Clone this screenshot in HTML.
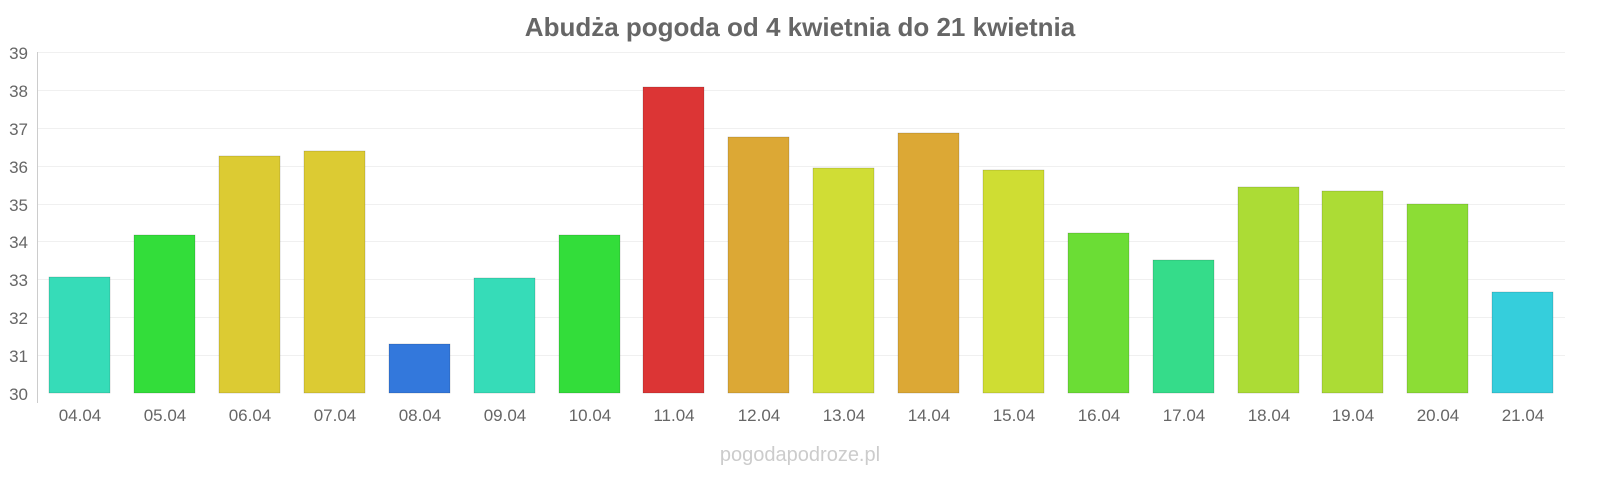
<!DOCTYPE html>
<html><head><meta charset="utf-8"><style>
body{margin:0;background:#fff;}
svg text{font-family:"Liberation Sans",sans-serif;}
</style></head><body>
<svg width="1600" height="480" xmlns="http://www.w3.org/2000/svg">
<rect width="1600" height="480" fill="#fff"/>
<text x="800" y="36" text-anchor="middle" font-size="26" font-weight="bold" fill="#666">Abudża pogoda od 4 kwietnia do 21 kwietnia</text>
<g stroke="#f0f0f0" stroke-width="1">
<line x1="38" x2="1565" y1="52.5" y2="52.5"/><line x1="38" x2="1565" y1="90.5" y2="90.5"/>
<line x1="38" x2="1565" y1="128.5" y2="128.5"/><line x1="38" x2="1565" y1="166.5" y2="166.5"/>
<line x1="38" x2="1565" y1="204.5" y2="204.5"/><line x1="38" x2="1565" y1="241.5" y2="241.5"/>
<line x1="38" x2="1565" y1="279.5" y2="279.5"/><line x1="38" x2="1565" y1="317.5" y2="317.5"/>
<line x1="38" x2="1565" y1="355.5" y2="355.5"/>
</g>
<line x1="37.5" x2="37.5" y1="52" y2="403" stroke="#ccc"/>
<g font-size="17" fill="#666" text-anchor="end">
<text x="28" y="59">39</text><text x="28" y="97">38</text><text x="28" y="135">37</text>
<text x="28" y="173">36</text><text x="28" y="211">35</text><text x="28" y="248">34</text>
<text x="28" y="286">33</text><text x="28" y="324">32</text><text x="28" y="362">31</text>
<text x="28" y="400">30</text>
</g>
<g stroke-opacity="0.3" stroke="#000" stroke-width="0.5">
<rect x="49" y="277" width="61" height="116" fill="#36dcb8"/>
<rect x="134" y="235" width="61" height="158" fill="#33dd3a"/>
<rect x="219" y="156" width="61" height="237" fill="#dccb33"/>
<rect x="304" y="151" width="61" height="242" fill="#dccb33"/>
<rect x="389" y="344" width="61" height="49" fill="#3378dc"/>
<rect x="474" y="278" width="61" height="115" fill="#36dcb8"/>
<rect x="559" y="235" width="61" height="158" fill="#33dd3a"/>
<rect x="643" y="87" width="61" height="306" fill="#dc3535"/>
<rect x="728" y="137" width="61" height="256" fill="#dca835"/>
<rect x="813" y="168" width="61" height="225" fill="#d0dd35"/>
<rect x="898" y="133" width="61" height="260" fill="#dca835"/>
<rect x="983" y="170" width="61" height="223" fill="#cfdd33"/>
<rect x="1068" y="233" width="61" height="160" fill="#6bdd35"/>
<rect x="1153" y="260" width="61" height="133" fill="#35dc8a"/>
<rect x="1238" y="187" width="61" height="206" fill="#acdc35"/>
<rect x="1322" y="191" width="61" height="202" fill="#acdc35"/>
<rect x="1407" y="204" width="61" height="189" fill="#8cdd35"/>
<rect x="1492" y="292" width="61" height="101" fill="#35cedc"/>
</g>
<g font-size="17" fill="#666" text-anchor="middle">
<text x="80" y="421">04.04</text><text x="165" y="421">05.04</text><text x="250" y="421">06.04</text>
<text x="335" y="421">07.04</text><text x="420" y="421">08.04</text><text x="505" y="421">09.04</text>
<text x="590" y="421">10.04</text><text x="674" y="421">11.04</text><text x="759" y="421">12.04</text>
<text x="844" y="421">13.04</text><text x="929" y="421">14.04</text><text x="1014" y="421">15.04</text>
<text x="1099" y="421">16.04</text><text x="1184" y="421">17.04</text><text x="1269" y="421">18.04</text>
<text x="1353" y="421">19.04</text><text x="1438" y="421">20.04</text><text x="1523" y="421">21.04</text>
</g>
<text x="800" y="461" text-anchor="middle" font-size="20" fill="#ccc">pogodapodroze.pl</text>
</svg>
</body></html>
